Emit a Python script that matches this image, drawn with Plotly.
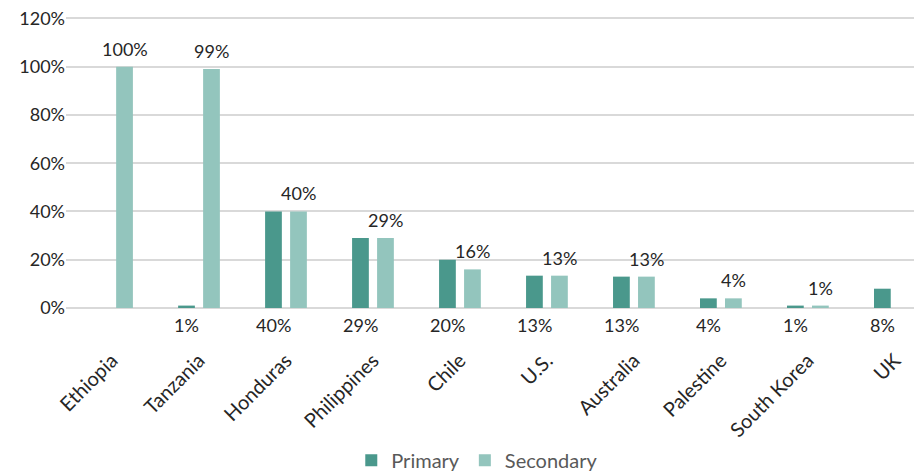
import plotly.graph_objects as go

countries = ["Ethiopia", "Tanzania", "Honduras", "Philippines", "Chile",
             "U.S.", "Australia", "Palestine", "South Korea", "UK"]
primary = [None, 1, 40, 29, 20, 13.4, 13, 4, 1, 8]
secondary = [100, 99, 40, 29, 16, 13.4, 13, 4, 1, None]

PRIMARY_COLOR = "#4A988C"
SECONDARY_COLOR = "#93C5BD"
TEXT = "#262626"
FONT = "Lato, 'Open Sans', sans-serif"

fig = go.Figure()
fig.add_trace(go.Bar(
    x=countries, y=primary, name="Primary",
    marker=dict(color=PRIMARY_COLOR, line=dict(width=0)),
))
fig.add_trace(go.Bar(
    x=countries, y=secondary, name="Secondary",
    marker=dict(color=SECONDARY_COLOR, line=dict(width=0)),
))

# Primary labels below the axis, secondary labels above their bars
for c, v in zip(countries, primary):
    if v is None:
        continue
    fig.add_annotation(
        x=c, y=0, xref="x", yref="y", text=f"{v:.0f}%", showarrow=False,
        xanchor="center", yanchor="top", xshift=-12.5, yshift=-4,
        font=dict(family=FONT, size=18, color=TEXT),
    )
for c, v in zip(countries, secondary):
    if v is None:
        continue
    fig.add_annotation(
        x=c, y=v, xref="x", yref="y", text=f"{v:.0f}%", showarrow=False,
        xanchor="center", yanchor="bottom", xshift=12.5, yshift=5,
        font=dict(family=FONT, size=18, color=TEXT),
    )

fig.update_layout(
    width=914, height=473,
    margin=dict(l=66, r=0, t=17, b=165, autoexpand=False),
    paper_bgcolor="white", plot_bgcolor="white",
    barmode="group", bargap=0.425, bargroupgap=0.33,
    font=dict(family=FONT, color=TEXT),
    showlegend=True,
    legend=dict(
        orientation="h", x=0.485, xanchor="center", y=-0.523, yanchor="middle",
        font=dict(family=FONT, size=20, color="#595959"),
        traceorder="normal",
    ),
    xaxis=dict(
        range=[-0.529, 9.22], tickangle=-45, showgrid=False,
        showline=False, zeroline=False, ticks="", automargin=False,
        ticklabelstandoff=36,
        tickfont=dict(family=FONT, size=20, color=TEXT),
    ),
    yaxis=dict(
        range=[0, 120.6], tick0=0, dtick=20, ticksuffix="%", automargin=False,
        showgrid=True, gridcolor="#d9d9d9", gridwidth=2,
        zeroline=True, zerolinecolor="#d9d9d9", zerolinewidth=2,
        showline=False, ticks="",
        tickfont=dict(family=FONT, size=18, color=TEXT),
    ),
)

fig.write_html("out.html", config={"displayModeBar": False},
               post_script="document.body.style.margin='0';")
